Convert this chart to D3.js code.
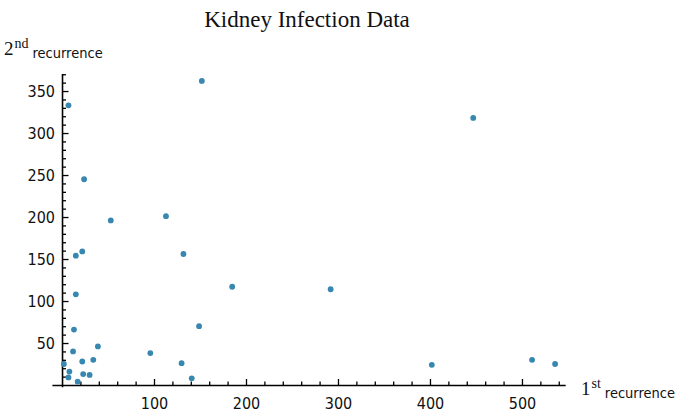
<!DOCTYPE html>
<html>
<head>
<meta charset="utf-8">
<script src="https://cdn.jsdelivr.net/npm/d3@7"></script>
<style>
  html, body { margin: 0; padding: 0; background: #fff; }
  svg { display: block; }
</style>
</head>
<body>
<svg id="chart" width="684" height="414"></svg>
<script>
// Data: first and second recurrence times
const firstRecurrence  = [8, 23, 22, 447, 30, 24, 7, 511, 53, 15, 7, 141, 96, 149, 536, 17, 185, 292, 22, 15, 152, 402, 13, 39, 12, 113, 132, 34, 2, 130];
const secondRecurrence = [16, 13, 28, 318, 12, 245, 9, 30, 196, 154, 333, 8, 38, 70, 25, 4, 117, 114, 159, 108, 362, 24, 66, 46, 40, 201, 156, 30, 25, 26];
const xMajorTicks = [100, 200, 300, 400, 500];
const yMajorTicks = [50, 100, 150, 200, 250, 300, 350];
const xMinorTicks = d3.range(20, 541, 20).filter(v => v % 100 !== 0);
const yMinorTicks = d3.range(10, 371, 10).filter(v => v % 50 !== 0);

const points = firstRecurrence.map((v, i) => ({ x: v, y: secondRecurrence[i] }));

const svg = d3.select("#chart");
const x = d3.scaleLinear().domain([-11, 547]).range([51.9, 565.2]);
const y = d3.scaleLinear().domain([-2, 371]).range([386.7, 73.4]);

const tickFont = "'DejaVu Sans Condensed', 'DejaVu Sans', sans-serif";
const serif = "'Liberation Serif', 'Times New Roman', serif";
const sans = "'DejaVu Sans Condensed', 'DejaVu Sans', sans-serif";

// X axis (minor ticks)
svg.append("g")
  .attr("transform", `translate(0,${y(0)})`)
  .call(d3.axisBottom(x).tickValues(xMinorTicks).tickSizeInner(-3.5).tickSizeOuter(0).tickFormat(""))
  .call(g => g.select(".domain").remove());
// X axis (major ticks + line)
svg.append("g")
  .attr("transform", `translate(0,${y(0)})`)
  .call(d3.axisBottom(x).tickValues(xMajorTicks).tickSizeInner(-6).tickSizeOuter(0).tickPadding(13).tickFormat(d3.format("d")));

// Y axis (minor ticks)
svg.append("g")
  .attr("transform", `translate(${x(0)},0)`)
  .call(d3.axisLeft(y).tickValues(yMinorTicks).tickSizeInner(-4).tickSizeOuter(0).tickFormat(""))
  .call(g => g.select(".domain").remove());
// Y axis (major ticks + line)
svg.append("g")
  .attr("transform", `translate(${x(0)},0)`)
  .call(d3.axisLeft(y).tickValues(yMajorTicks).tickSizeInner(-6.5).tickSizeOuter(0).tickPadding(7).tickFormat(d3.format("d")));

svg.selectAll(".domain").attr("stroke", "#000").attr("stroke-width", 1.6);
svg.selectAll(".tick line").attr("stroke", "#000").attr("stroke-width", 1.3);
svg.selectAll(".tick text")
  .attr("font-family", tickFont)
  .attr("font-size", 16)
  .attr("fill", "#111");

// Points
svg.append("g").selectAll("circle")
  .data(points)
  .join("circle")
  .attr("cx", d => x(d.x))
  .attr("cy", d => y(d.y))
  .attr("r", 2.9)
  .attr("fill", "#3787b0");

// Title
svg.append("text")
  .attr("x", 307)
  .attr("y", 27)
  .attr("text-anchor", "middle")
  .attr("font-family", serif)
  .attr("font-size", 23)
  .attr("fill", "#111")
  .text("Kidney Infection Data");

// Y axis label: 2nd recurrence
const yl = svg.append("text")
  .attr("x", 4)
  .attr("y", 55)
  .attr("font-family", serif)
  .attr("fill", "#111");
yl.append("tspan").attr("font-size", 19).text("2");
yl.append("tspan").attr("font-size", 14).attr("dx", 1).attr("dy", -7).text("nd");
yl.append("tspan").attr("font-family", sans).attr("font-size", 14.5).attr("dx", 4).attr("dy", 10).text("recurrence");

// X axis label: 1st recurrence
const xl = svg.append("text")
  .attr("x", 581)
  .attr("y", 395)
  .attr("font-family", serif)
  .attr("fill", "#111");
xl.append("tspan").attr("font-size", 19).text("1");
xl.append("tspan").attr("font-size", 14).attr("dx", 1).attr("dy", -7).text("st");
xl.append("tspan").attr("font-family", sans).attr("font-size", 14.5).attr("dx", 4).attr("dy", 10).text("recurrence");
</script>
</body>
</html>
